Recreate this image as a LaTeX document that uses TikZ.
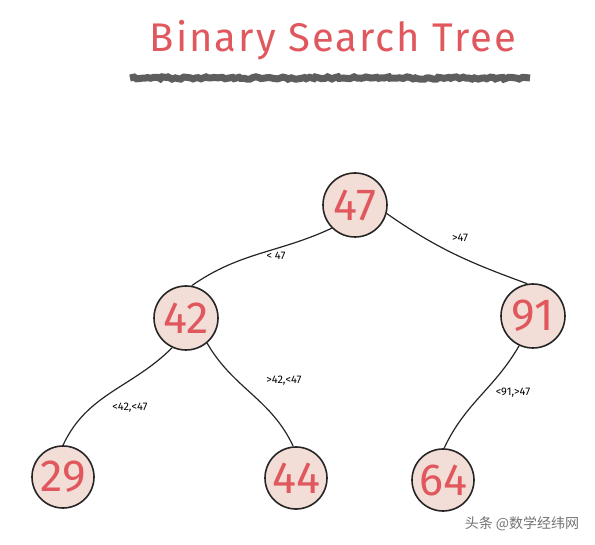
\documentclass[tikz,border=0pt]{standalone}
\usepackage{fontspec}
\setmainfont{Fira Sans}
\newfontfamily\cjk{Noto Sans CJK SC}
\usepackage{xcolor}
\definecolor{Shell Pink}{HTML}{F2DED6}
\definecolor{Marker Red}{HTML}{E0585E}
\definecolor{Pencil Grey}{HTML}{5E5E5E}
\colorlet{cFill}{Shell Pink}
\colorlet{cRed}{Marker Red}
\colorlet{cGrey}{Pencil Grey}
\usetikzlibrary{decorations.pathmorphing, positioning}
\tikzset{
	vertex/.style={
		draw=black!85,
		circle,
		fill=cFill,
		line width=1.6pt,
		minimum size=64pt,
		inner sep=0pt,
		text=cRed,
		font=\fontsize{45}{45}\selectfont
	},
	edge/.style={
		line width=1.2pt,
		draw=black!85
	},
	cond/.style={
		font=\fontsize{11}{11}\selectfont
	}
}

\begin{document}
\begin{tikzpicture}[x=1pt, y=-1pt]
		\useasboundingbox (0,0) rectangle (595,545);

		\node[text=cRed, font=\fontsize{40}{40}\selectfont\addfontfeatures{LetterSpace=5}] (title) at (333,40) {Binary Search Tree};
		\draw[cGrey, line width=7pt, decorate, decoration={random steps, segment length=3pt, amplitude=1.2pt}]
			(130,78) -- (530,78);

		\node[vertex] at (355,205) (n47) {47};
		\node[vertex] at (186,318) (n42) {42};
		\node[vertex] at (533,316) (n91) {91};
		\node[vertex, minimum size=62pt] at (63,477) (n29) {29};
		\node[vertex, minimum size=62pt] at (296,478) (n44) {44};
		\node[vertex, minimum size=62pt] at (443,480) (n64) {64};

		\draw[edge] (n47.225) to[out=205, in=35] (n42.80);
		\draw[edge] (n47.-15) to[out=-35, in=160] (n91.100);
		\draw[edge] (n42.245) to[out=225, in=65] (n29.90);
		\draw[edge] (n42.-50) to[out=-60, in=115] (n44.95);
		\draw[edge] (n91.245) to[out=240, in=65] (n64.88);

		\node[cond] (c4247) at (276,256) {< 47};
		\node[cond] (c47) at (460,238) {>47};
		\node[cond] (c2942) at (130,408) {<42,<47};
		\node[cond] (c4442) at (284,381) {>42,<47};
		\node[cond] (c6491) at (513,393) {<91,>47};

		\node[text=black!55, font=\cjk\fontsize{14}{14}\selectfont] (mark) at (522,524) {头条 @数学经纬网};
	\end{tikzpicture}
\end{document}
